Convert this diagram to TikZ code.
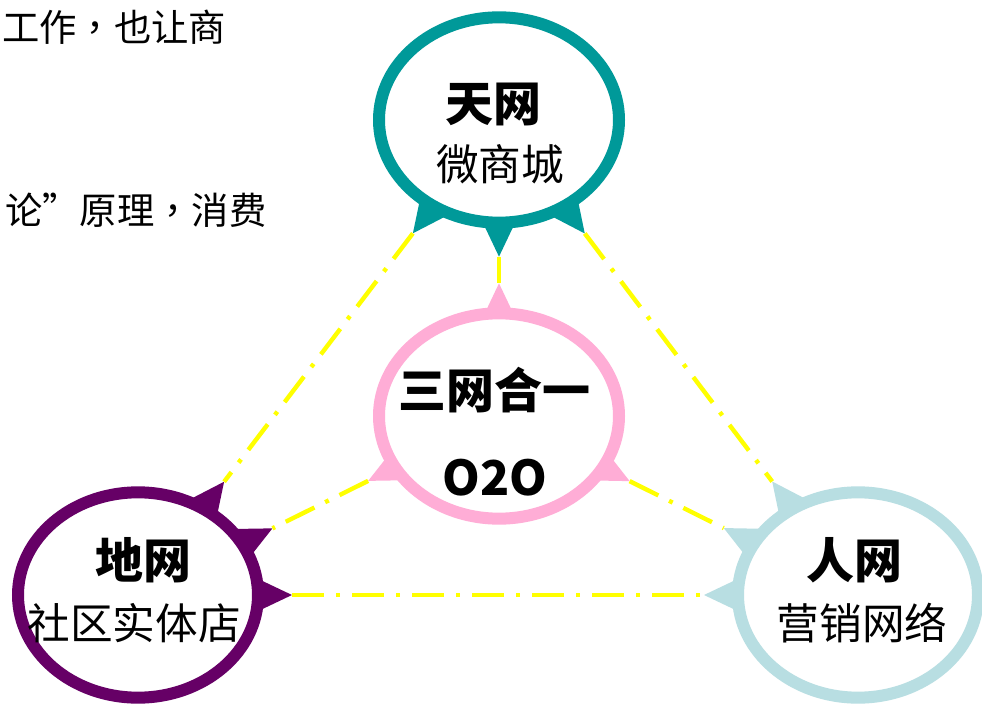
\documentclass[tikz,border=0pt]{standalone}
\usepackage{fontspec}
\newfontfamily\cjk{Noto Sans CJK SC}
\newfontfamily\cjktc{Noto Sans CJK TC}
\usetikzlibrary{shapes.geometric,calc,backgrounds}
\definecolor{tealring}{HTML}{009999}
\definecolor{purplering}{HTML}{660066}
\definecolor{bluering}{HTML}{B8DEE2}
\definecolor{pinkring}{HTML}{FFADD6}
\definecolor{linkyellow}{HTML}{FFFF00}
\newcommand\spike[3]{%
  \coordinate (spkb) at ($(#1)!30pt!(#2)$);
  \fill[#3] (#1) -- ($(spkb)!14.25pt!90:(#1)$) -- ($(spkb)!14.25pt!-90:(#1)$) -- cycle;}
\newcommand\ccomma{{\cjktc ，}}
\begin{document}
\begin{tikzpicture}[x=0.75pt,y=-0.75pt,
  ring/.style={ellipse,draw,fill=white,line width=9pt,minimum width=180pt,minimum height=154pt,inner sep=0pt,outer sep=25.5pt},
  conn/.style={draw=linkyellow,line width=3.3pt,dash pattern=on 24pt off 9pt on 3pt off 9pt},
  title/.style={font=\cjk\bfseries\fontsize{36pt}{40pt}\selectfont,inner sep=0pt},
  sub/.style={font=\cjk\fontsize{32pt}{36pt}\selectfont,inner sep=0pt},
  note/.style={font=\cjk\fontsize{28pt}{32pt}\selectfont,inner sep=0pt,anchor=west}]
\useasboundingbox (0,0) rectangle (982,706);
\node[ring,draw=tealring] (T) at (499,120) {};
\node[ring,draw=pinkring,outer sep=22.5pt] (C) at (499,416) {};
\node[ring,draw=purplering] (L) at (138,595) {};
\node[ring,draw=bluering] (R) at (858,595) {};
\path (T) -- (L) coordinate[pos=0] (tl1) coordinate[pos=1] (tl2);
\path (T) -- (R) coordinate[pos=0] (tr1) coordinate[pos=1] (tr2);
\path (T) -- (C) coordinate[pos=0] (tc1) coordinate[pos=1] (tc2);
\path (C) -- (L) coordinate[pos=0] (cl1) coordinate[pos=1] (cl2);
\path (C) -- (R) coordinate[pos=0] (cr1) coordinate[pos=1] (cr2);
\path (L) -- (R) coordinate[pos=0] (lr1) coordinate[pos=1] (lr2);
\begin{pgfonlayer}{background}
\fill[white] (0,0) rectangle (982,706);
\spike{tl1}{T}{tealring}
\spike{tr1}{T}{tealring}
\spike{tc1}{T}{tealring}
\spike{tl2}{L}{purplering}
\spike{cl2}{L}{purplering}
\spike{lr1}{L}{purplering}
\spike{tr2}{R}{bluering}
\spike{cr2}{R}{bluering}
\spike{lr2}{R}{bluering}
\spike{tc2}{C}{pinkring}
\spike{cl1}{C}{pinkring}
\spike{cr1}{C}{pinkring}
\end{pgfonlayer}
\draw[conn] (T) -- (L);
\draw[conn] (T) -- (R);
\draw[conn] (T) -- (C);
\draw[conn] (C) -- (L);
\draw[conn] (C) -- (R);
\draw[conn] (L) -- (R);
\node[title] (tT) at (493,104) {天网};
\node[sub] (sT) at (500,164) {微商城};
\node[title] (tC) at (494,390) {三网合一};
\node[title] (oC) at (495,478) {O2O};
\node[title] (tL) at (143,560) {地网};
\node[sub] (sL) at (134,623) {社区实体店};
\node[title] (tR) at (854,560) {人网};
\node[sub] (sR) at (862,623) {营销网络};
\node[note] (n1) at (2,27) {工作\ccomma 也让商};
\node[note] (n2) at (5,210) {论”原理\ccomma 消费};
\end{tikzpicture}
\end{document}
